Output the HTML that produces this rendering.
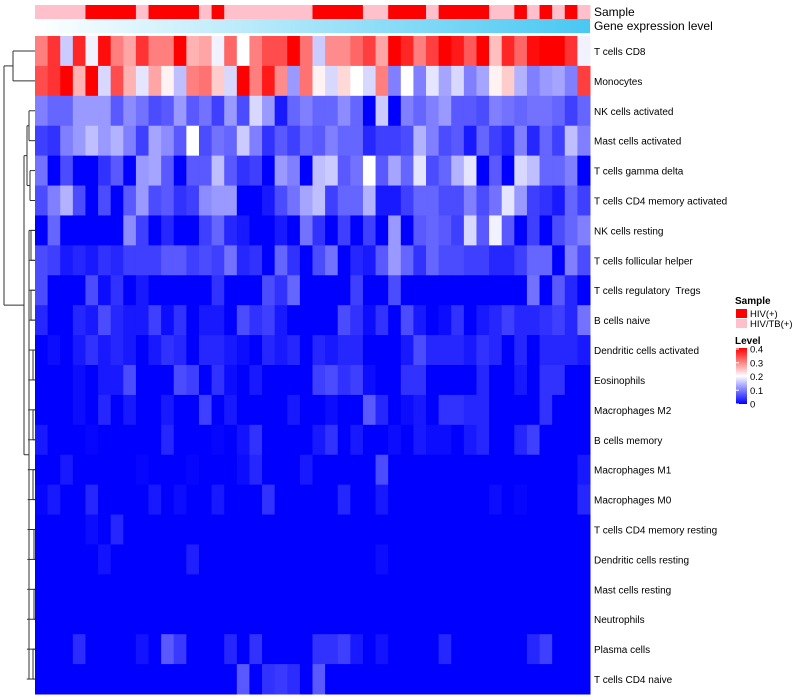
<!DOCTYPE html>
<html><head><meta charset="utf-8"><style>
body{margin:0;background:#fff;font-family:"Liberation Sans",sans-serif}
svg{display:block}
#rowlabels text{white-space:pre}
</style></head><body>
<svg id="chart" width="800" height="700" xmlns="http://www.w3.org/2000/svg" font-family="Liberation Sans, sans-serif">
<g id="dendro" stroke="#333" stroke-width="1" fill="none"></g>
<g id="cells"></g>
<g id="ann"></g>
<defs><linearGradient id="geneGrad" x1="0" x2="1" y1="0" y2="0"><stop offset="0" stop-color="#ffffff"/><stop offset="1" stop-color="#48c8f2"/></linearGradient>
<linearGradient id="levelGrad" x1="0" x2="0" y1="0" y2="1"><stop offset="0" stop-color="#ff0000"/><stop offset="0.5" stop-color="#ffffff"/><stop offset="1" stop-color="#0000ff"/></linearGradient></defs>
<rect x="35" y="19" width="555" height="14" fill="url(#geneGrad)"/>
<text x="594" y="16" font-size="12">Sample</text>
<text x="594" y="30" font-size="12">Gene expression level</text>
<g id="rowlabels" font-size="10" xml:space="preserve"></g>
<g font-size="9.5">
<text x="735" y="304" font-weight="bold" font-size="10">Sample</text>
<rect x="736" y="309" width="11" height="9" fill="#ff0000"/>
<text x="750" y="317">HIV(+)</text>
<rect x="736" y="319" width="11" height="9" fill="#ffc0cb"/>
<text x="750" y="327">HIV/TB(+)</text>
</g>
<g font-size="9.5">
<text x="735" y="344" font-weight="bold" font-size="10">Level</text>
<rect x="736" y="348" width="11" height="56" fill="url(#levelGrad)"/>
<g id="levelTicks"></g>
</g>
</svg>
<script>
const NS="http://www.w3.org/2000/svg";
const rowNames=["T cells CD8","Monocytes","NK cells activated","Mast cells activated","T cells gamma delta","T cells CD4 memory activated","NK cells resting","T cells follicular helper","T cells regulatory  Tregs","B cells naive","Dendritic cells activated","Eosinophils","Macrophages M2","B cells memory","Macrophages M1","Macrophages M0","T cells CD4 memory resting","Dendritic cells resting","Mast cells resting","Neutrophils","Plasma cells","T cells CD4 naive"];
const sampleGroups=["P","P","P","P","R","R","R","R","P","R","R","R","R","P","R","P","P","P","P","P","P","P","R","R","R","R","P","P","R","R","R","P","R","R","R","R","P","P","R","P","R","P","R","P"];
const levelTicks=[0,0.1,0.2,0.3,0.4];
const Z=Array(44).fill(0);
function sp(pairs){const a=Z.slice();for(let i=0;i<pairs.length;i+=2)a[pairs[i]]=pairs[i+1];return a;}
const r0=[.3,.36,.16,.37,.19,.39,.3,.27,.36,.3,.3,.4,.26,.27,.19,.32,.2,.3,.34,.34,.4,.31,.16,.29,.29,.32,.35,.27,.4,.37,.3,.35,.4,.38,.33,.4,.25,.37,.32,.39,.4,.4,.36,.19];
const r1=[.34,.36,.4,.26,.4,.17,.34,.26,.18,.27,.21,.15,.3,.31,.24,.17,.4,.3,.38,.29,.12,.31,.21,.17,.23,.2,.17,.3,.1,.2,.1,.18,.13,.17,.1,.13,.21,.24,.14,.1,.12,.13,.1,.35];
const r2=[.1,.08,.08,.12,.12,.12,.07,.11,.09,.06,.07,.12,.07,.09,.05,.12,.06,.17,.12,.02,.08,.1,.08,.08,.11,.08,0,.16,0,.1,.08,.1,.12,.07,.07,.06,.1,.09,.08,.09,.09,.08,.05,.08];
const r3=[.05,.04,.1,.12,.15,.12,.14,.1,.05,.13,.11,.07,.2,.06,.09,.08,.16,.1,.04,.07,.05,.08,.07,.1,.08,.08,.03,.05,.05,.06,.14,.1,.06,.07,.02,.08,.05,.03,.1,.03,.08,.05,.15,.1];
const r4=[.09,0,.06,0,0,.04,.07,0,.12,.13,.07,0,.07,.07,.15,.07,.04,.05,0,.12,.1,0,.15,.16,.07,.09,.2,.07,.13,.08,.18,.06,.08,.14,.18,0,.07,0,.17,.15,.08,.08,.1,0];
const r5=[.06,.1,.14,.06,0,.06,0,.07,.12,.06,.07,.04,.05,.11,.12,.12,0,0,.02,.06,.09,.13,.15,.05,.08,.08,.14,.02,.02,.05,.08,.08,.06,.06,.1,.06,.09,.18,.12,.05,.04,.02,.08,.05];
const r6=[0,.08,0,0,0,0,0,.11,.05,0,.03,0,0,.05,.08,.03,.02,0,0,.02,0,.09,.04,0,.05,0,.05,0,.12,0,.07,.08,.07,.05,.17,.07,.19,.07,0,.05,0,.06,.08,.1];
const r7=[.06,.05,.02,.03,.02,.04,.03,.05,.05,.05,.07,.07,.05,.06,.05,.09,.03,.04,0,.08,.04,0,.06,.09,0,.03,.02,.07,.12,.08,.04,.08,.06,.06,.05,.05,.03,.03,.05,.08,.08,0,.1,.06];
const r8=[.06,0,0,0,.06,.01,.04,0,.02,0,0,0,0,0,.04,0,0,0,.06,.04,.08,0,0,0,0,.05,0,0,.06,0,0,0,0,0,0,0,0,0,0,.09,0,.07,.03,0];
const r9=[.03,0,0,.03,.02,.06,.03,.02,.02,.05,.01,.04,0,.02,.02,0,.06,.04,.05,.02,0,0,0,0,.06,.04,.01,.04,0,.06,.02,0,.01,.04,0,.02,.03,.05,.03,.03,.04,.05,.03,.09];
const r10=[0,.01,0,.02,.04,.02,.03,.02,0,.02,.04,.03,0,.03,.03,.02,.01,0,.03,.02,.03,0,.03,.02,.03,.03,0,0,0,.02,.06,.03,.03,.03,.02,.04,.03,0,.03,0,.03,.03,.03,.02];
const r11=[0,0,0,.01,0,.02,.02,.06,0,0,0,.06,.05,0,.04,.01,0,.02,0,0,0,0,.05,.06,.04,.05,.01,0,0,.04,.04,0,0,0,0,.03,0,0,.02,0,.04,.04,0,0];
const r12=[0,0,0,.01,0,.03,0,.02,0,0,.02,0,0,.05,0,.02,0,0,0,0,.02,0,0,.01,0,0,.07,.03,0,.01,.02,0,.04,.04,.03,.03,0,0,0,0,.04,0,0,0];
const r13=[.02,0,0,0,.005,0,0,0,0,0,.03,0,0,0,.005,0,.015,.04,0,0,0,0,.02,.04,0,.02,0,0,.01,0,.02,.01,.01,0,.02,.03,0,0,.03,.05,0,0,0,0];
const r14=sp([2,.02,8,.005,12,.005,16,.01,17,.03,21,.02,27,.06,43,.02]);
const r15=sp([0,.005,1,.02,4,.03,9,.02,11,.01,14,.02,18,.04,24,.03,27,.02,36,.01,38,.005,43,.03]);
const r16=sp([4,.01,6,.03]);
const r17=sp([5,.015,12,.025,27,.01]);
const r18=Z.slice();
const r19=Z.slice();
const r20=sp([3,.035,8,.015,10,.07,11,.045,15,.03,17,.04,22,.04,23,.04,24,.05,25,.02,27,.015,32,.03,39,.03,40,.05]);
const r21=sp([16,.07,18,.04,19,.045,20,.035,22,.07]);
const values=[r0,r1,r2,r3,r4,r5,r6,r7,r8,r9,r10,r11,r12,r13,r14,r15,r16,r17,r18,r19,r20,r21];

const X0=35,X1=590,Y0=36,Y1=694;
const nC=sampleGroups.length,nR=rowNames.length;
const cw=(X1-X0)/nC,rh=(Y1-Y0)/nR;
const xS=i=>X0+i*cw, yS=j=>Y0+j*rh;
function col(v){v=Math.max(0,Math.min(0.4,v));let r,g,b;
 if(v<=0.2){const t=v/0.2;r=255*t;g=255*t;b=255;}else{const t=(v-0.2)/0.2;r=255;g=255*(1-t);b=255*(1-t);}
 return `rgb(${r|0},${g|0},${b|0})`;}
const cells=document.getElementById('cells');
values.forEach((row,j)=>row.forEach((v,i)=>{
 const r=document.createElementNS(NS,'rect');
 
 
 r.setAttribute('x',xS(i));r.setAttribute('y',yS(j));
 r.setAttribute('width',cw+0.5);r.setAttribute('height',rh+0.5);
 r.setAttribute('fill',col(v));cells.appendChild(r);}));
const ann=document.getElementById('ann');
sampleGroups.forEach((g,i)=>{
 const r=document.createElementNS(NS,'rect');
 
 
 r.setAttribute('x',xS(i));r.setAttribute('y',5);r.setAttribute('width',cw+0.5);r.setAttribute('height',14);
 r.setAttribute('fill',g==='R'?'#ff0000':'#ffc0cb');ann.appendChild(r);});
const rl=document.getElementById('rowlabels');
rowNames.forEach((n,j)=>{
 const t=document.createElementNS(NS,'text');
 
 
 t.setAttribute('x',594);t.setAttribute('y',yS(j)+rh/2+4);t.textContent=n;rl.appendChild(t);});
const lt=document.getElementById('levelTicks');
levelTicks.forEach(v=>{
 const y=404-v/0.4*55;
 const t=document.createElementNS(NS,'text');
 
 
 t.setAttribute('x',750);t.setAttribute('y',y+3.5);t.textContent=String(v);lt.appendChild(t);
 const l=document.createElementNS(NS,'line');
 
 
 l.setAttribute('x1',736);l.setAttribute('x2',739);l.setAttribute('y1',y);l.setAttribute('y2',y);l.setAttribute('stroke','#fff');lt.appendChild(l);});
const d=document.getElementById('dendro');
const yc=j=>yS(j)+rh/2;
function seg(x1,y1,x2,y2){const l=document.createElementNS(NS,'line');
 
 
 l.setAttribute('x1',x1);l.setAttribute('y1',y1);l.setAttribute('x2',x2);l.setAttribute('y2',y2);d.appendChild(l);}
function join(ya,yb,xa,xb,xm){seg(xa,ya,xm,ya);seg(xb,yb,xm,yb);seg(xm,ya,xm,yb);}
join(yc(0),yc(1),35,35,13);
join(yc(2),yc(3),35,35,29);
join(yc(4),yc(5),35,35,30);
const ya=(yc(2)+yc(3))/2,yb=(yc(4)+yc(5))/2;join(ya,yb,29,30,27);
let cy=(ya+yb)/2;
for(let j=6;j<nR;j++){const nx=27-Math.min(3,(j-6)*0.15);
 seg(35,yc(j),nx+2,yc(j));}
join(yc(6),yc(7),35,35,31);
join(yc(8),yc(9),35,35,31);
join(yc(10),yc(11),35,35,33);
join(yc(12),yc(13),35,35,33);
join(yc(14),yc(15),35,35,33);
join(yc(16),yc(17),35,35,34);
join(yc(18),yc(19),35,35,34);
join(yc(20),yc(21),35,35,33);
seg(29,yc(6),29,yc(21));
join(cy,(yc(6)+yc(21))/2,27,29,24);
join((yc(0)+yc(1))/2,(cy+(yc(6)+yc(21))/2)/2,13,24,4);
</script>
</body></html>
